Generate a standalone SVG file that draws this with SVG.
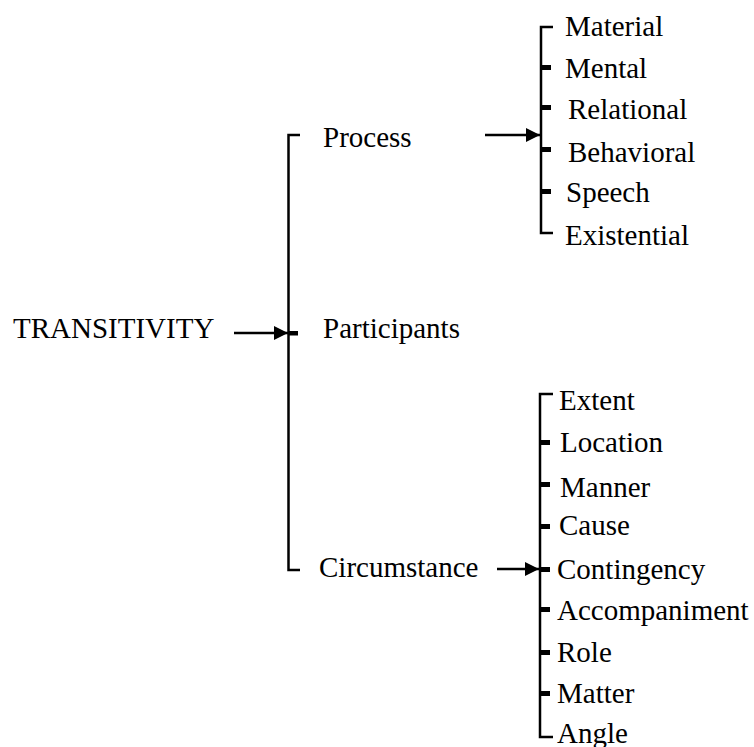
<svg xmlns="http://www.w3.org/2000/svg" width="754" height="747" viewBox="0 0 754 747">
  <style>
    text { font-family: "Liberation Serif", "Times New Roman", serif; font-size: 29px; fill: #000; }
    .ln { fill: none; stroke: #000; stroke-width: 2.5; }
    .tick { fill: #000; }
  </style>
  <defs>
    <marker id="arrow" markerWidth="14" markerHeight="14" refX="14" refY="7" orient="auto" markerUnits="userSpaceOnUse">
      <path d="M0,0 L14,7 L0,14 Z" fill="#000"/>
    </marker>
  </defs>
  <rect width="754" height="747" fill="#fff"/>

  <g id="connectors">
    <!-- main bracket -->
    <path class="ln" d="M300,135 H288.5 V570 H300"/>
    <rect class="tick" x="288" y="331" width="10" height="4.5"/>
    <line class="ln" x1="234" y1="333" x2="288" y2="333" marker-end="url(#arrow)"/>

    <!-- process bracket -->
    <path class="ln" d="M553,27 H541 V233 H553"/>
    <rect class="tick" x="541" y="65" width="10" height="5"/>
    <rect class="tick" x="541" y="105" width="10" height="5"/>
    <rect class="tick" x="541" y="147" width="10" height="5"/>
    <rect class="tick" x="541" y="189" width="10" height="5"/>
    <line class="ln" x1="485" y1="135" x2="540" y2="135" marker-end="url(#arrow)"/>

    <!-- circumstance bracket -->
    <path class="ln" d="M553,394 H540 V737 H553"/>
    <rect class="tick" x="540" y="440" width="10" height="5"/>
    <rect class="tick" x="540" y="482" width="10" height="5"/>
    <rect class="tick" x="540" y="524" width="10" height="5"/>
    <rect class="tick" x="540" y="567" width="10" height="5"/>
    <rect class="tick" x="540" y="607" width="10" height="5"/>
    <rect class="tick" x="540" y="650" width="10" height="5"/>
    <rect class="tick" x="540" y="691" width="10" height="5"/>
    <line class="ln" x1="497" y1="569" x2="539" y2="569" marker-end="url(#arrow)"/>
  </g>

  <g id="transitivity"><text x="13" y="338">TRANSITIVITY</text></g>
  <g id="process"><text x="323" y="147">Process</text></g>
  <g id="participants"><text x="323" y="338">Participants</text></g>
  <g id="circumstance"><text x="319" y="577">Circumstance</text></g>

  <g id="material"><text x="565" y="36">Material</text></g>
  <g id="mental"><text x="565" y="78">Mental</text></g>
  <g id="relational"><text x="568" y="119">Relational</text></g>
  <g id="behavioral"><text x="568" y="162">Behavioral</text></g>
  <g id="speech"><text x="566" y="202">Speech</text></g>
  <g id="existential"><text x="565" y="245">Existential</text></g>

  <g id="extent"><text x="559" y="410">Extent</text></g>
  <g id="location"><text x="560" y="452">Location</text></g>
  <g id="manner"><text x="560" y="497">Manner</text></g>
  <g id="cause"><text x="559" y="535">Cause</text></g>
  <g id="contingency"><text x="557" y="579">Contingency</text></g>
  <g id="accompaniment"><text x="557" y="620">Accompaniment</text></g>
  <g id="role"><text x="557" y="662">Role</text></g>
  <g id="matter"><text x="557" y="703">Matter</text></g>
  <g id="angle"><text x="557" y="743">Angle</text></g>
</svg>
